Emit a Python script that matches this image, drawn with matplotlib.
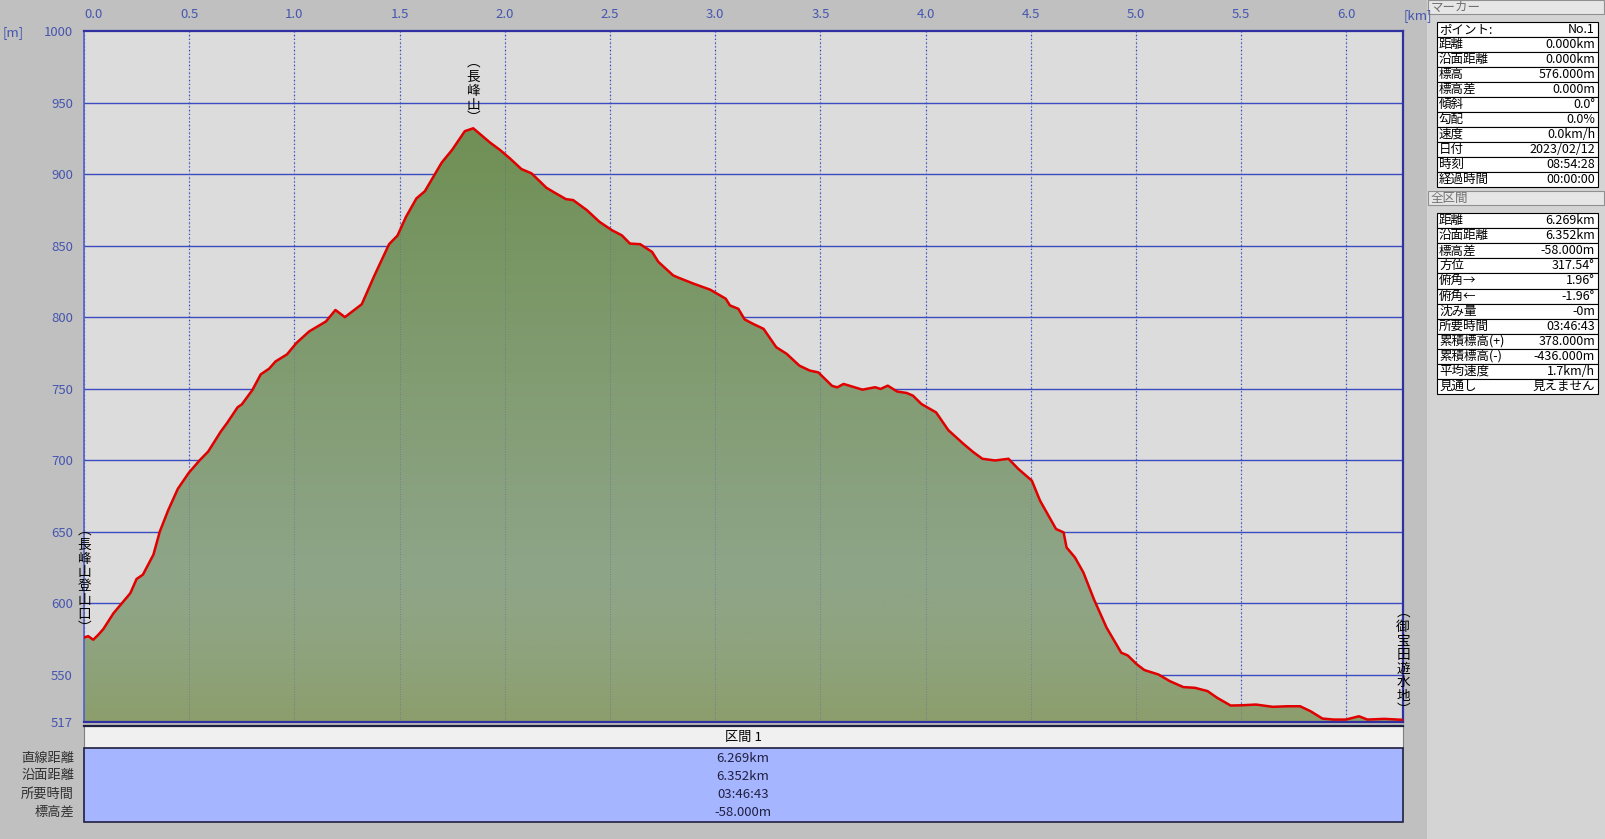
import numpy as np
import matplotlib
matplotlib.use('Agg')
from matplotlib import pyplot as plt
from matplotlib.patches import Rectangle
from matplotlib.transforms import Affine2D

plt.rcParams['font.family'] = ['Noto Sans CJK JP', 'DejaVu Sans']

# elevation profile (km, m)
dist = [0, 0.02, 0.044, 0.068, 0.092, 0.14, 0.18, 0.22, 0.25, 0.28, 0.33, 0.36,
        0.40, 0.446, 0.497, 0.55, 0.59, 0.65, 0.68, 0.73, 0.75, 0.80, 0.84, 0.88,
        0.91, 0.965, 1.01, 1.07, 1.15, 1.195, 1.24, 1.32, 1.38, 1.45, 1.49, 1.53,
        1.58, 1.62, 1.70, 1.75, 1.81, 1.85, 1.93, 1.976, 2.024, 2.079, 2.127,
        2.198, 2.23, 2.29, 2.325, 2.39, 2.45, 2.51, 2.556, 2.595, 2.643, 2.70,
        2.73, 2.80, 2.825, 2.897, 2.976, 3.05, 3.07, 3.11, 3.14, 3.18, 3.23,
        3.29, 3.34, 3.40, 3.45, 3.49, 3.555, 3.58, 3.61, 3.70, 3.76, 3.786, 3.82,
        3.865, 3.91, 3.94, 3.98, 4.05, 4.108, 4.18, 4.227, 4.27, 4.33, 4.394,
        4.44, 4.505, 4.544, 4.62, 4.656, 4.67, 4.71, 4.75, 4.80, 4.86, 4.93,
        4.96, 5.005, 5.04, 5.107, 5.16, 5.225, 5.28, 5.34, 5.386, 5.45, 5.505,
        5.57, 5.65, 5.72, 5.78, 5.83, 5.886, 5.94, 5.997, 6.06, 6.10, 6.18, 6.269]
elev = [576, 577, 574.5, 578, 582, 593, 600, 607, 617, 620, 634, 650,
        665, 680, 691, 700, 706, 720, 726, 737, 739, 749, 760, 764,
        769, 774, 782, 790, 797, 805, 800, 809, 829, 851, 857, 870,
        883, 888, 908, 917, 930, 932, 922, 917, 911, 903.5, 900.5,
        890.4, 887.6, 882.5, 881.8, 874.8, 866.6, 860.7, 857.2, 851.4, 851, 845.6,
        838.6, 829.2, 827.6, 823.4, 819.2, 812.9, 808.2, 805.8, 798.4, 795.3, 791.8,
        779, 774.3, 766.1, 762.6, 761.4, 752, 750.9, 753.3, 749.3, 751, 749.8, 752.1,
        748, 747, 745.1, 739.3, 733.4, 721, 711.4, 705.6, 701, 699.8, 701,
        694, 685.7, 671.7, 651.9, 649.5, 639, 632, 621.5, 602.8, 583, 565.4,
        563.6, 557.2, 553.3, 550.2, 545.6, 541.4, 540.9, 538.6, 533.9, 528.5, 528.7,
        529.2, 527.6, 528, 528, 524.5, 519.4, 518.7, 518.7, 521, 518.7, 519.2, 518.5]

# waypoint labels (index into profile, name)
waypoints = [(0, '長峰山登山口'), (41, '長峰山'), (len(dist) - 1, '御宝田遊水地')]

xticks = [0.0, 0.5, 1.0, 1.5, 2.0, 2.5, 3.0, 3.5, 4.0, 4.5, 5.0, 5.5, 6.0]
yticks = [517, 550, 600, 650, 700, 750, 800, 850, 900, 950, 1000]

# side panels
marker_rows = [('ポイント:', 'No.1'), ('距離', '0.000km'), ('沿面距離', '0.000km'),
               ('標高', '576.000m'), ('標高差', '0.000m'), ('傾斜', '0.0°'),
               ('勾配', '0.0%'), ('速度', '0.0km/h'), ('日付', '2023/02/12'),
               ('時刻', '08:54:28'), ('経過時間', '00:00:00')]
total_rows = [('距離', '6.269km'), ('沿面距離', '6.352km'), ('標高差', '-58.000m'),
              ('方位', '317.54°'), ('俯角→', '1.96°'), ('俯角←', '-1.96°'),
              ('沈み量', '-0m'), ('所要時間', '03:46:43'), ('累積標高(+)', '378.000m'),
              ('累積標高(-)', '-436.000m'), ('平均速度', '1.7km/h'), ('見通し', '見えません')]
section_labels = ['直線距離', '沿面距離', '所要時間', '標高差']
section_values = ['6.269km', '6.352km', '03:46:43', '-58.000m']
section_name = '区間 1'

W, H = 1605, 839
fig = plt.figure(figsize=(W / 100, H / 100), dpi=100, facecolor='#c0c0c0')
# pixel coords (top-left origin) -> figure
px = Affine2D().scale(1 / W, -1 / H).translate(0, 1) + fig.transFigure

def add_ax(x0, y0, x1, y1):
    return fig.add_axes([x0 / W, 1 - y1 / H, (x1 - x0) / W, (y1 - y0) / H])

blue = '#3a4cc0'
tickcol = '#4656b0'

#######
# profile
#######
ax = add_ax(84, 31, 1403, 722)
ax.set_facecolor('#dcdcdc')
ax.set_xlim(0, 6.269)
ax.set_ylim(517, 1000)

for yv in yticks[1:-1]:
    ax.axhline(yv, color=blue, lw=1.0, zorder=1)
for xv in xticks:
    ax.axvline(xv, color=blue, lw=0.9, ls=(0, (1, 2)), zorder=1)

# gradient fill clipped under the line
ys = np.linspace(1000, 517, 300)
stops_e = [517, 560, 620, 760, 900, 1000]
stops_c = np.array([[140, 158, 108], [142, 163, 124], [142, 165, 136],
                    [130, 156, 114], [114, 146, 90], [108, 140, 84]]) / 255.
grad = np.zeros((len(ys), 1, 3))
for k in range(3):
    grad[:, 0, k] = np.interp(ys, stops_e, stops_c[:, k])
poly = ax.fill_between(dist, elev, 517, facecolor='none', edgecolor='none')
im = ax.imshow(grad, extent=[0, 6.269, 517, 1000], aspect='auto', zorder=2)
im.set_clip_path(poly.get_paths()[0], transform=ax.transData)
for xv in xticks:
    ax.axvline(xv, color=blue, lw=0.6, ls=(0, (1, 2)), alpha=0.5, zorder=2.5)

ax.plot(dist, elev, color='#e00000', lw=1.8, zorder=3, solid_joinstyle='round')

for i, name in waypoints:
    ax.annotate('\n'.join('︵' + name + '︶'), (dist[i], elev[i]), xytext=(0, 3),
                textcoords='offset pixels', ha='center', va='bottom', fontsize=9.8,
                linespacing=0.98, color='black', zorder=4, annotation_clip=False)

ax.xaxis.tick_top()
ax.set_xticks(xticks)
ax.set_xticklabels(['%.1f' % v for v in xticks])
ax.set_yticks(yticks)
ax.set_yticklabels([str(v) for v in yticks])
ax.tick_params(length=0, colors=tickcol, labelsize=9.5)
ax.tick_params(axis='x', pad=7)
ax.tick_params(axis='y', pad=8)
ax.get_xticklabels()[0].set_ha('left')
for s in ax.spines.values():
    s.set_color('#3030a0')
    s.set_linewidth(1.6)
ax.spines['left'].set_color('#5060c8')
ax.spines['left'].set_linewidth(1.2)

fig.text(3, 33, '[m]', transform=px, color=tickcol, fontsize=9.5, va='center')
fig.text(1404, 16, '[km]', transform=px, color=tickcol, fontsize=9.5, va='center')

#######
# section table under the plot
#######
fig.add_artist(Rectangle((84, 725), 1319, 23, transform=px, fc='#f0f0f0',
                         ec='#808080', lw=0.8))
fig.add_artist(plt.Line2D([84, 1403], [726, 726], transform=px, color='#202040', lw=1.6))
fig.text(743, 737, section_name, transform=px, ha='center', va='center',
         fontsize=9.5, color='black')
fig.add_artist(Rectangle((84, 748), 1319, 74, transform=px, fc='#a5b5ff',
                         ec='#202040', lw=1.2))
for i, (lab, val) in enumerate(zip(section_labels, section_values)):
    yy = 758 + i * 18
    fig.text(743, yy, val, transform=px, ha='center', va='center', fontsize=9.5,
             color='#202040')
    fig.text(74, yy, lab, transform=px, ha='right', va='center', fontsize=9.5,
             color='#303030')

#######
# right panel
#######
fig.add_artist(Rectangle((1427, 0), 178, 839, transform=px, fc='#d4d4d4', ec='none'))

def header(y, txt):
    fig.add_artist(Rectangle((1428, y), 176, 14, transform=px, fc='#e6e6e6',
                             ec='#909090', lw=0.8))
    fig.text(1431, y + 7, txt, transform=px, va='center', fontsize=9, color='#707070')

def table(y0, rows, rh):
    for i, (lab, val) in enumerate(rows):
        y = y0 + i * rh
        fig.add_artist(Rectangle((1437, y), 161, rh, transform=px, fc='white',
                                 ec='black', lw=0.8))
        fig.text(1439, y + rh / 2, lab, transform=px, va='center', fontsize=9,
                 color='black')
        fig.text(1595, y + rh / 2, val, transform=px, va='center', ha='right',
                 fontsize=9, color='black')

header(0, 'マーカー')
table(22, marker_rows, 15.0)
header(191, '全区間')
table(213, total_rows, 15.1)

fig.savefig('out.png', dpi=100, facecolor=fig.get_facecolor())
